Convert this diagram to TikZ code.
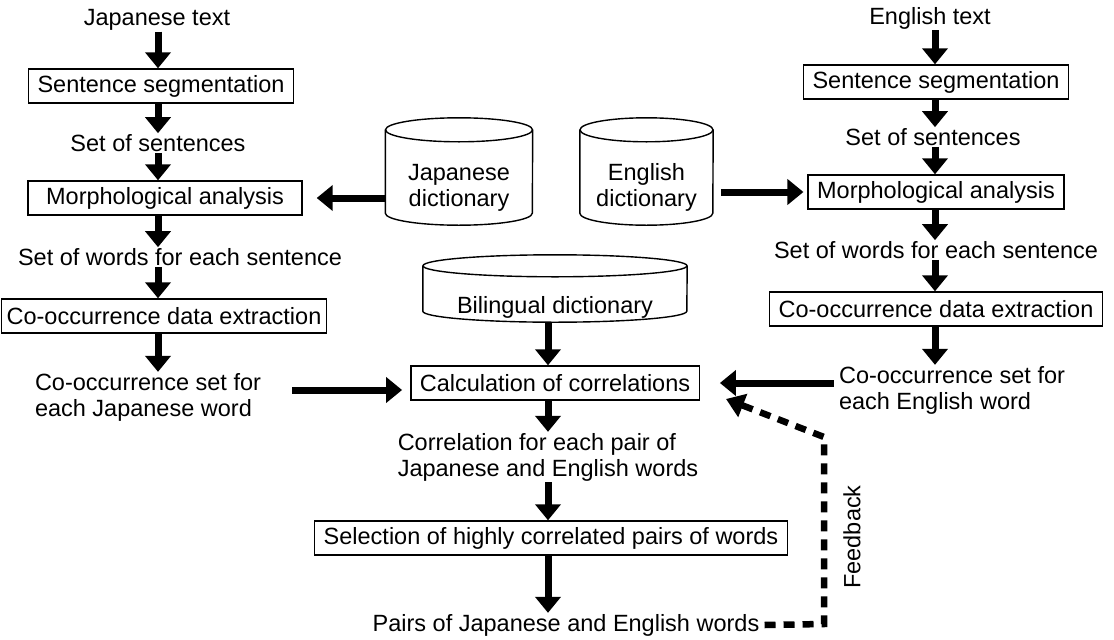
\documentclass[tikz,border=0pt]{standalone}
\usepackage{fontspec}
\setmainfont{Liberation Sans}
\usetikzlibrary{arrows.meta}

\tikzset{
  procbox/.style={draw, line width=1.4pt, minimum height=34pt,
                  inner xsep=9pt, inner ysep=0pt},
  datatext/.style={align=left, inner sep=1pt},
  dictdb/.style={inner sep=0pt},
  dictline/.style={line width=1.4pt},
  flow/.style={line width=7pt, -{Triangle[width=25pt,length=16pt]}},
  fback/.style={line width=6.5pt, dash pattern=on 11pt off 8pt,
                -{Triangle[width=24pt,length=18pt]}}
}
\newcommand{\dictlabel}[2]{\raisebox{#1}[0pt][0pt]{\begin{tabular}{@{}c@{}}#2\end{tabular}}}

\begin{document}
\begin{tikzpicture}[x=1pt, y=-1pt, font=\fontsize{23.5}{26}\selectfont]

%%=== LAYOUT (pt, y downwards) =======================================
%%  Columns: Japanese x=158 · centre x=548 · English x=935
%%  Dictionaries: Japanese y=118..225 · English y=118..225
%%                Bilingual y=255..322
%%====================================================================
\useasboundingbox (0,0) rectangle (1114,640);

\coordinate (jcol) at (158,0);
\coordinate (ecol) at (935,0);
\coordinate (ccol) at (548,0);

%% --- Japanese column ----------------------------------------------
\node[datatext] (jtext)  at (157,20)  {Japanese text};
\node[procbox]  (jseg)   at (161,86)  {Sentence segmentation};
\node[datatext] (jsent)  at (158,143) {Set of sentences};
\node[procbox, minimum width=274pt]
                (jmorph) at (165,198) {Morphological analysis};
\node[datatext] (jwords) at (180,257) {Set of words for each sentence};
\node[procbox, inner xsep=5pt]
                (jcooc)  at (164,316) {Co-occurrence data extraction};
\node[datatext] (jset)   at (148,397) {Co-occurrence set for\\each Japanese word};

%% --- English column -----------------------------------------------
\node[datatext] (etext)  at (930,18)  {English text};
\node[procbox]  (eseg)   at (936,82)  {Sentence segmentation};
\node[datatext] (esent)  at (933,137) {Set of sentences};
\node[procbox]  (emorph) at (936,192) {Morphological analysis};
\node[datatext] (ewords) at (936,250) {Set of words for each sentence};
\node[procbox]  (ecooc)  at (936,309) {Co-occurrence data extraction};
\node[datatext] (eset)   at (952,390) {Co-occurrence set for\\each English word};

%% --- Dictionaries (cylinders drawn round the nodes below) -----------
\node[dictdb, minimum width=147pt, minimum height=107pt]
  (jdict) at (459,171.5) {\dictlabel{-22.6pt}{Japanese\\dictionary}};
\node[dictdb, minimum width=133pt, minimum height=107pt]
  (edict) at (646.5,171.5) {\dictlabel{-22.6pt}{English\\dictionary}};
\node[dictdb, minimum width=264pt, minimum height=67pt]
  (bdict) at (555,288.5) {\raisebox{-24.9pt}[0pt][0pt]{Bilingual dictionary}};

\foreach \d/\w/\r in {jdict/73.5/12, edict/66.5/12, bdict/132/11}{
  \draw[dictline] ([yshift=-\r pt]\d.north west) -- ([yshift=\r pt]\d.south west)
    arc[start angle=180, end angle=360, x radius=\w pt, y radius=\r pt]
    -- ([yshift=-\r pt]\d.north east);
  \draw[dictline] ([yshift=-\r pt]\d.north) ellipse[x radius=\w pt, y radius=\r pt];
}

%% --- Centre column --------------------------------------------------
\node[procbox]  (calc)   at (555,383) {Calculation of correlations};
\node[datatext] (corr)   at (548,457) {Correlation for each pair of\\Japanese and English words};
\node[procbox]  (select) at (551,538) {Selection of highly correlated pairs of words};
\node[datatext] (pairs)  at (566,625) {Pairs of Japanese and English words};

%% --- Vertical flow arrows ---------------------------------------------
\foreach \a/\b in {jtext/jseg, jseg/jsent, jsent/jmorph, jmorph/jwords,
                   jwords/jcooc, jcooc/jset}
  \draw[flow] (jcol |- \a.south) -- (jcol |- \b.north);
\foreach \a/\b in {etext/eseg, eseg/esent, esent/emorph, emorph/ewords,
                   ewords/ecooc, ecooc/eset}
  \draw[flow] (ecol |- \a.south) -- (ecol |- \b.north);
\foreach \a/\b in {bdict/calc, calc/corr, corr/select, select/pairs}
  \draw[flow] (ccol |- \a.south) -- (ccol |- \b.north);

%% --- Dictionaries into morphological analysis ------------------------
\draw[flow] (jdict.west |- jmorph.east) -- ([xshift=14pt]jmorph.east);
\draw[flow] ([xshift=8pt]edict.east |- emorph.west) -- ([xshift=-4pt]emorph.west);

%% --- Co-occurrence sets into calculation ------------------------------
\draw[flow] ([xshift=30pt]jset.east |- 0,390) -- ([xshift=-8pt]calc.west |- 0,390);
\draw[flow] ([xshift=-4pt]eset.west |- calc.east) -- ([xshift=20pt]calc.east);

%% --- Feedback loop ------------------------------------------------------
\coordinate (fbcorner) at (824,624);
\coordinate (fbtop)    at (824,437);
\coordinate (fbend)    at (726,399);
\draw[fback] ([xshift=4pt]pairs.east) -- (fbcorner) -- (fbtop) -- (fbend);
\node[rotate=90] (fblabel) at (852,537) {Feedback};

\end{tikzpicture}
\end{document}
